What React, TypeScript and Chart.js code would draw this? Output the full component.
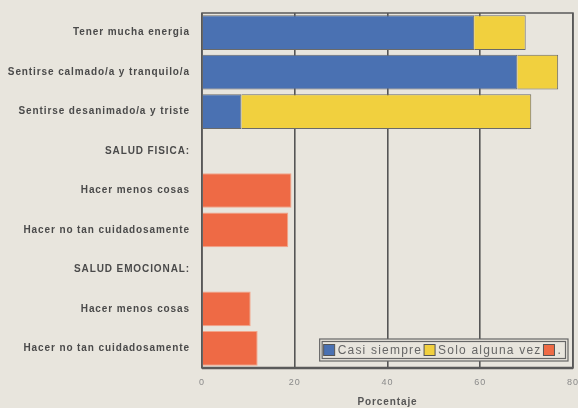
import React, { useEffect, useRef } from "react";
import { Chart, registerables } from "chart.js";

Chart.register(...registerables);

const categories = [
  "Tener mucha energia",
  "Sentirse calmado/a y tranquilo/a",
  "Sentirse desanimado/a y triste",
  "SALUD FISICA:",
  "Hacer menos cosas",
  "Hacer no tan cuidadosamente",
  "SALUD EMOCIONAL:",
  "Hacer menos cosas",
  "Hacer no tan cuidadosamente",
];

const casiSiempre = [58.7, 68, 8.5, null, null, null, null, null, null];
const soloAlgunaVez = [11.1, 8.8, 62.5, null, null, null, null, null, null];
const tercera = [null, null, null, null, 19.3, 18.6, null, 10.5, 12];

const seriesLabels = ["Casi siempre", "Solo alguna vez", "."];
const xTicks = [0, 20, 40, 60, 80];
const xTitle = "Porcentaje";

const BG = "#e8e5dd";
const BLUE = "#4a71b2";
const YELLOW = "#f1d03e";
const RED = "#ee6a45";
const FONT = "'Liberation Sans', Arial, sans-serif";

const framePlugin = {
  id: "frame",
  beforeDraw(chart: any) {
    const { ctx, width, height } = chart;
    ctx.save();
    ctx.fillStyle = BG;
    ctx.fillRect(0, 0, width, height);
    ctx.restore();
    (ctx as any).letterSpacing = "0.9px";
  },
  afterDatasetsDraw(chart: any) {
    const { ctx, chartArea } = chart;
    ctx.save();
    ctx.strokeStyle = "#5a5a5a";
    ctx.lineWidth = 1.5;
    ctx.strokeRect(chartArea.left, chartArea.top, chartArea.right - chartArea.left, chartArea.bottom - chartArea.top);
    ctx.lineWidth = 2.5;
    ctx.beginPath();
    ctx.moveTo(chartArea.left, chartArea.bottom);
    ctx.lineTo(chartArea.right, chartArea.bottom);
    ctx.stroke();

    // legend inside the chart area, bottom right
    const colors = [BLUE, YELLOW, RED];
    ctx.font = `12px ${FONT}`;
    (ctx as any).letterSpacing = "1.2px";
    const sw = 11;
    const gap = 3;
    const widths = seriesLabels.map((l) => ctx.measureText(l).width);
    let total = 4;
    widths.forEach((w) => (total += sw + gap + w + 2));
    total += 4;
    const boxH = 22;
    const right = chartArea.right - 5;
    const bottom = chartArea.bottom - 7;
    const left = right - total;
    const top = bottom - boxH;
    ctx.fillStyle = BG;
    ctx.fillRect(left, top, total, boxH);
    ctx.strokeStyle = "#666";
    ctx.lineWidth = 1.2;
    ctx.strokeRect(left, top, total, boxH);
    ctx.strokeRect(left + 2.5, top + 2.5, total - 5, boxH - 5);
    let x = left + 4;
    const cy = top + boxH / 2;
    seriesLabels.forEach((l, i) => {
      ctx.fillStyle = colors[i];
      ctx.fillRect(x, cy - sw / 2, sw, sw);
      ctx.strokeStyle = "#555";
      ctx.lineWidth = 1;
      ctx.strokeRect(x, cy - sw / 2, sw, sw);
      x += sw + gap;
      ctx.fillStyle = "#666";
      ctx.textBaseline = "middle";
      ctx.textAlign = "left";
      ctx.fillText(l, x, cy + 0.5);
      x += widths[i] + 2;
    });
    ctx.restore();
  },
};

export default function App() {
  const ref = useRef<HTMLCanvasElement>(null);
  useEffect(() => {
    document.body.style.margin = "0";
    document.body.style.background = BG;
    const ds = (label: string, data: (number | null)[], bg: string, border: string) => ({
      label,
      data,
      backgroundColor: bg,
      borderColor: border,
      borderWidth: 1,
      barPercentage: 0.88,
      categoryPercentage: 1,
    });
    const chart = new Chart(ref.current as HTMLCanvasElement, {
      type: "bar",
      data: {
        labels: categories,
        datasets: [
          ds(seriesLabels[0], casiSiempre, BLUE, "#6a6a6a"),
          ds(seriesLabels[1], soloAlgunaVez, YELLOW, "#6a6a6a"),
          ds(seriesLabels[2], tercera, RED, "#f3a58a"),
        ],
      },
      options: {
        indexAxis: "y",
        animation: false,
        responsive: false,
        maintainAspectRatio: false,
        layout: { padding: { top: 13, right: 5, left: 0, bottom: 0 } },
        plugins: {
          legend: { display: false },
          tooltip: { enabled: false },
        },
        scales: {
          x: {
            stacked: true,
            min: 0,
            max: 80,
            afterBuildTicks: (scale: any) => {
              scale.ticks = xTicks.map((v) => ({ value: v }));
            },
            afterFit: (scale: any) => {
              scale.height = 40;
              scale.paddingLeft = 0;
              scale.paddingRight = 0;
            },
            grid: {
              color: "#555",
              lineWidth: 1.6,
              drawTicks: false,
            },
            border: { display: false },
            ticks: {
              padding: 9,
              color: "#8a8a8a",
              font: { family: FONT, size: 9 },
            },
            title: {
              display: true,
              text: xTitle,
              color: "#555",
              font: { family: FONT, size: 10, weight: "bold" },
              padding: { top: 3, bottom: 0 },
            },
          },
          y: {
            stacked: true,
            afterFit: (scale: any) => {
              scale.width = 202;
              scale.paddingTop = 0;
              scale.paddingBottom = 0;
            },
            grid: { display: false, drawTicks: false },
            border: { display: false },
            ticks: {
              padding: 12,
              color: "#4a4a4a",
              font: { family: FONT, size: 10, weight: "bold" },
              autoSkip: false,
            },
          },
        },
      },
      plugins: [framePlugin],
    } as any);
    return () => chart.destroy();
  }, []);
  return (
    <div style={{ width: 578, height: 408, background: BG }}>
      <canvas ref={ref} width={578} height={408} style={{ width: 578, height: 408, display: "block" }} />
    </div>
  );
}
